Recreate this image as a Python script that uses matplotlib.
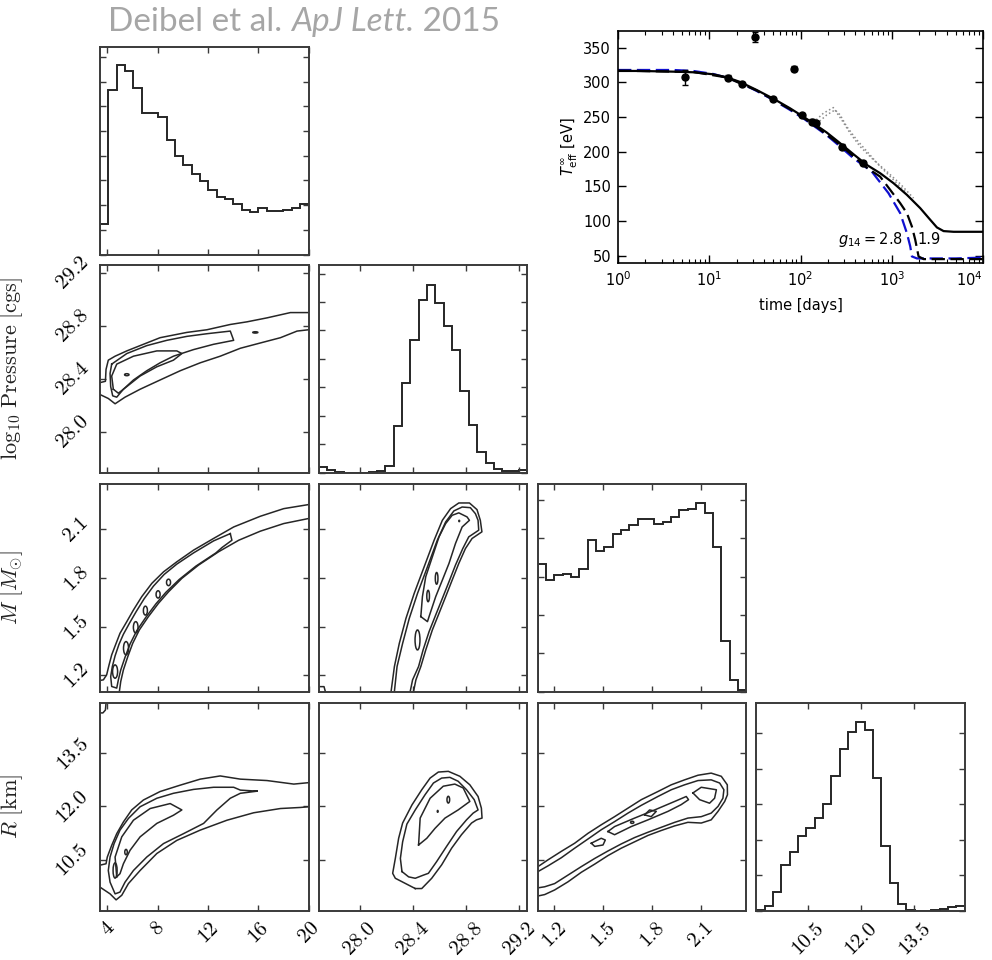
import numpy as np
import matplotlib
matplotlib.use("Agg")
import matplotlib.pyplot as plt
from matplotlib.patches import Ellipse
from matplotlib.ticker import FixedLocator, FixedFormatter, NullFormatter, MultipleLocator, LogLocator

# ---------------- corner-plot data ----------------
g_range = (3.42, 20.0)
P_range = (27.69, 29.26)
M_range = (1.10, 2.38)
R_range = (9.06, 14.92)

g_ticks = [4, 8, 12, 16, 20]
g_labels = ["4", "8", "12", "16", "20"]
P_ticks = [28.0, 28.4, 28.8, 29.2]
P_labels = ["28.0", "28.4", "28.8", "29.2"]
M_ticks = [1.2, 1.5, 1.8, 2.1]
M_labels = ["1.2", "1.5", "1.8", "2.1"]
R_ticks = [10.5, 12.0, 13.5]
R_labels = ["10.5", "12.0", "13.5"]

# 1D marginal histograms (25 bins each, arbitrary units)
hist_g = [1.22, 6.65, 7.66, 7.42, 6.76, 5.73, 5.73, 5.57, 4.65, 3.97, 3.64, 3.27, 2.96,
          2.62, 2.32, 2.26, 2.05, 1.81, 1.72, 1.89, 1.76, 1.78, 1.81, 1.89, 2.05]
hist_P = [0.18, 0.08, 0.02, 0.0, 0.0, 0.0, 0.01, 0.04, 0.24, 1.65, 3.15, 4.67, 6.08,
          6.61, 5.96, 5.14, 4.32, 2.88, 1.68, 0.73, 0.35, 0.12, 0.06, 0.05, 0.08]
hist_M = [3.33, 2.91, 3.04, 3.07, 3.00, 3.19, 3.96, 3.68, 3.78, 4.11, 4.22, 4.35, 4.50,
          4.50, 4.37, 4.43, 4.57, 4.74, 4.78, 4.93, 4.67, 3.78, 1.33, 0.29, 0.03]
hist_R = [0.01, 0.14, 0.52, 1.28, 1.66, 2.10, 2.34, 2.62, 3.02, 3.80, 4.56, 5.05, 5.31,
          5.10, 3.74, 1.82, 0.78, 0.17, 0.01, 0.0, 0.0, 0.01, 0.03, 0.10, 0.12]
hist_top = [8.4, 7.3, 5.42, 5.86]

# 2D credible-region contours (polylines in data units)
# Pressure vs g14
Pg_lines = [
    ([20.0, 18.56, 16.70, 15.11, 13.78, 11.92, 10.33, 8.20, 6.87, 5.55, 4.62, 4.08, 3.90, 3.85, 3.42],
     [28.90, 28.90, 28.86, 28.83, 28.81, 28.77, 28.75, 28.71, 28.66, 28.61, 28.57, 28.54, 28.47, 28.38, 28.37]),
    ([3.42, 4.08, 4.62, 5.41, 6.61, 8.20, 9.80, 11.39, 12.98, 14.58, 16.17, 17.77, 19.09, 20.0],
     [28.28, 28.25, 28.21, 28.26, 28.32, 28.39, 28.46, 28.52, 28.57, 28.63, 28.67, 28.71, 28.76, 28.77]),
    ([4.35, 5.55, 7.14, 8.73, 10.33, 11.92, 13.78, 14.05, 12.45, 10.86, 9.26, 8.20, 7.14, 6.08, 5.28, 4.75, 4.43, 4.27, 4.22, 4.35],
     [28.51, 28.59, 28.65, 28.69, 28.72, 28.74, 28.76, 28.69, 28.66, 28.62, 28.57, 28.52, 28.46, 28.39, 28.32, 28.26, 28.27, 28.34, 28.44, 28.51]),
    ([4.48, 4.35, 4.75, 6.08, 7.94, 9.53, 9.93, 9.26, 7.94, 6.61, 5.55, 4.88, 4.48],
     [28.32, 28.42, 28.51, 28.57, 28.61, 28.61, 28.59, 28.54, 28.49, 28.42, 28.34, 28.29, 28.32]),
]
Pg_islands = [(5.55, 28.43, 0.35, 0.015), (15.77, 28.75, 0.4, 0.010)]

# Mass vs g14
Mg_lines = [
    ([20.0, 18.03, 16.17, 14.05, 12.45, 10.86, 9.53, 8.47, 7.54, 6.74, 6.08, 5.55, 5.01, 4.70, 4.35, 4.14, 3.95, 3.69, 3.42],
     [2.253, 2.228, 2.181, 2.115, 2.044, 1.972, 1.900, 1.838, 1.767, 1.685, 1.603, 1.531, 1.459, 1.397, 1.326, 1.264, 1.203, 1.172, 1.168]),
    ([4.96, 5.07, 5.28, 5.63, 6.02, 6.55, 7.27, 8.07, 8.87, 9.93, 11.26, 12.85, 14.45, 16.17, 18.03, 20.0],
     [1.100, 1.162, 1.233, 1.315, 1.397, 1.480, 1.562, 1.644, 1.715, 1.798, 1.880, 1.962, 2.033, 2.089, 2.136, 2.167]),
    ([13.78, 12.45, 10.86, 9.53, 8.52, 7.67, 6.93, 6.29, 5.76, 5.28, 4.93, 4.62, 4.40, 4.27, 4.35,
      4.75, 4.88, 5.07, 5.41, 5.81, 6.34, 7.06, 7.86, 8.65, 9.72, 11.04, 12.64, 13.12, 13.91, 13.78],
     [2.074, 2.029, 1.955, 1.886, 1.822, 1.750, 1.672, 1.592, 1.521, 1.453, 1.391, 1.320, 1.254, 1.192, 1.131,
      1.121, 1.172, 1.233, 1.311, 1.393, 1.475, 1.557, 1.640, 1.711, 1.791, 1.873, 1.955, 1.988, 2.033, 2.074]),
]
Mg_islands = [(4.62, 1.223, 0.40, 0.082), (5.49, 1.367, 0.40, 0.082), (6.26, 1.496, 0.37, 0.070),
              (7.03, 1.599, 0.32, 0.055), (8.04, 1.699, 0.32, 0.045), (8.87, 1.773, 0.32, 0.040)]

# Mass vs Pressure
MP_lines = [
    ([28.235, 28.260, 28.297, 28.347, 28.409, 28.484, 28.559, 28.621, 28.683, 28.745, 28.825, 28.882, 28.907,
      28.919, 28.845, 28.795, 28.745, 28.695, 28.646, 28.596, 28.546, 28.496, 28.459, 28.422, 28.404],
     [1.100, 1.254, 1.397, 1.551, 1.705, 1.869, 2.033, 2.156, 2.228, 2.263, 2.263, 2.222, 2.156,
      2.085, 2.044, 1.982, 1.890, 1.787, 1.685, 1.582, 1.480, 1.356, 1.254, 1.172, 1.100]),
    ([28.260, 28.280, 28.322, 28.372, 28.434, 28.509, 28.583, 28.646, 28.708, 28.770, 28.832, 28.870, 28.890,
      28.895, 28.820, 28.775, 28.720, 28.671, 28.621, 28.571, 28.521, 28.476, 28.442, 28.397, 28.379],
     [1.100, 1.254, 1.397, 1.551, 1.705, 1.869, 2.033, 2.146, 2.214, 2.238, 2.234, 2.197, 2.156,
      2.095, 2.054, 1.982, 1.880, 1.777, 1.674, 1.572, 1.469, 1.356, 1.254, 1.172, 1.100]),
    ([28.459, 28.471, 28.496, 28.546, 28.596, 28.646, 28.695, 28.745, 28.807, 28.825, 28.770, 28.720, 28.671,
      28.621, 28.571, 28.521, 28.509, 28.459],
     [1.562, 1.685, 1.808, 1.931, 2.054, 2.136, 2.187, 2.202, 2.177, 2.156, 2.115, 2.013, 1.890,
      1.787, 1.685, 1.562, 1.531, 1.562]),
    ([27.69, 27.73, 27.74], [1.13, 1.13, 1.10]),
]
MP_islands = [(28.578, 1.798, 0.02, 0.072), (28.514, 1.689, 0.02, 0.070),
              (28.434, 1.418, 0.037, 0.123), (28.748, 2.152, 0.006, 0.008)]

# Radius vs g14
Rg_lines = [
    ([20.0, 18.83, 16.70, 14.58, 12.98, 11.39, 9.80, 8.20, 6.87, 5.94, 5.28, 4.75, 4.35, 4.00, 3.90, 3.42],
     [12.67, 12.63, 12.73, 12.77, 12.86, 12.77, 12.60, 12.42, 12.18, 11.90, 11.56, 11.23, 10.90, 10.57, 10.38, 10.34]),
    ([3.42, 4.22, 4.70, 5.15, 5.68, 6.61, 7.94, 9.53, 11.39, 13.52, 15.64, 17.77, 19.36, 20.0],
     [9.72, 9.53, 9.36, 9.49, 9.82, 10.19, 10.67, 11.04, 11.33, 11.61, 11.82, 11.94, 11.97, 11.99]),
    ([15.91, 14.58, 14.05, 12.45, 10.86, 9.26, 7.94, 6.61, 5.68, 5.01, 4.54, 4.22, 4.08, 4.22, 4.62, 5.01,
      5.41, 6.08, 7.14, 8.47, 10.06, 11.66, 12.72, 13.78, 14.58, 15.91],
     [12.43, 12.46, 12.54, 12.54, 12.48, 12.37, 12.23, 11.99, 11.66, 11.33, 10.95, 10.57, 10.19, 9.86, 9.53, 9.58,
      9.86, 10.19, 10.57, 10.95, 11.23, 11.52, 11.90, 12.23, 12.37, 12.43]),
    ([4.75, 4.62, 5.15, 6.08, 7.41, 9.00, 9.93, 9.26, 7.94, 6.61, 5.81, 5.28, 5.01, 4.75],
     [10.01, 10.57, 11.14, 11.61, 11.94, 12.08, 11.90, 11.75, 11.52, 11.14, 10.76, 10.38, 10.10, 10.01]),
    ([3.90, 3.85, 3.65, 3.42], [14.92, 14.72, 14.64, 14.64]),
]
Rg_islands = [(4.62, 10.19, 0.32, 0.43), (5.49, 10.71, 0.20, 0.15)]

# Radius vs Pressure
RP_lines = [
    ([28.417, 28.267, 28.247, 28.267, 28.292, 28.322, 28.392, 28.466, 28.529, 28.591, 28.666, 28.753, 28.828,
      28.890, 28.915, 28.920, 28.878, 28.841, 28.765, 28.691, 28.616, 28.541, 28.466, 28.417],
     [9.68, 9.97, 10.11, 10.53, 11.10, 11.53, 12.04, 12.47, 12.80, 12.97, 12.99, 12.85, 12.61,
      12.28, 11.95, 11.67, 11.62, 11.53, 11.20, 10.82, 10.35, 9.97, 9.68, 9.68]),
    ([28.317, 28.305, 28.322, 28.354, 28.417, 28.491, 28.554, 28.616, 28.678, 28.740, 28.803, 28.861, 28.890,
      28.853, 28.803, 28.728, 28.653, 28.578, 28.516, 28.479, 28.417, 28.367, 28.317],
     [10.16, 10.53, 11.00, 11.50, 11.90, 12.33, 12.66, 12.80, 12.82, 12.71, 12.47, 12.19, 11.90,
      11.81, 11.62, 11.29, 10.87, 10.44, 10.11, 10.06, 9.97, 10.01, 10.16]),
    ([28.442, 28.454, 28.529, 28.628, 28.715, 28.778, 28.828, 28.740, 28.641, 28.566, 28.504, 28.442],
     [10.91, 11.67, 12.23, 12.57, 12.63, 12.52, 12.14, 11.90, 11.67, 11.38, 11.10, 10.91]),
]
RP_islands = [(28.666, 12.19, 0.02, 0.19), (28.586, 11.86, 0.006, 0.05)]

# Radius vs Mass
RM_lines = [
    ([1.102, 1.163, 1.245, 1.327, 1.409, 1.490, 1.572, 1.654, 1.736, 1.838, 1.920, 2.002, 2.084, 2.165, 2.227,
      2.264, 2.265, 2.248, 2.207, 2.165, 2.104, 2.022, 1.941, 1.859, 1.777, 1.695, 1.613, 1.531, 1.450, 1.368,
      1.286, 1.204, 1.143, 1.102],
     [10.30, 10.49, 10.73, 10.96, 11.24, 11.48, 11.71, 11.95, 12.19, 12.42, 12.61, 12.75, 12.88, 12.94, 12.85,
      12.61, 12.33, 12.14, 11.86, 11.62, 11.53, 11.55, 11.45, 11.32, 11.18, 11.00, 10.82, 10.61, 10.37, 10.14,
      9.87, 9.64, 9.51, 9.47]),
    ([1.102, 1.163, 1.245, 1.327, 1.409, 1.490, 1.572, 1.654, 1.736, 1.838, 1.920, 2.002, 2.084, 2.165, 2.217,
      2.243, 2.237, 2.207, 2.165, 2.104, 2.022, 1.941, 1.859, 1.777, 1.695, 1.613, 1.531, 1.450, 1.368, 1.286,
      1.204, 1.143, 1.102],
     [10.16, 10.32, 10.55, 10.82, 11.08, 11.34, 11.57, 11.81, 12.03, 12.28, 12.47, 12.61, 12.73, 12.75, 12.66,
      12.47, 12.23, 12.00, 11.81, 11.71, 11.67, 11.55, 11.41, 11.27, 11.12, 10.94, 10.74, 10.53, 10.30, 10.06,
      9.82, 9.73, 9.70]),
    ([1.531, 1.572, 1.695, 1.818, 1.941, 2.012, 2.026, 1.981, 1.900, 1.777, 1.674, 1.572, 1.531],
     [11.29, 11.43, 11.67, 11.90, 12.14, 12.28, 12.19, 12.05, 11.86, 11.62, 11.43, 11.20, 11.29]),
    ([1.429, 1.490, 1.515, 1.501, 1.450, 1.429], [10.96, 11.10, 11.05, 10.91, 10.87, 10.96]),
    ([1.756, 1.787, 1.828, 1.797, 1.756], [11.76, 11.90, 11.86, 11.71, 11.76]),
    ([2.053, 2.104, 2.197, 2.186, 2.155, 2.094, 2.053], [12.38, 12.54, 12.47, 12.23, 12.09, 12.19, 12.38]),
]
RM_islands = [(1.680, 11.55, 0.02, 0.06)]

# ---------------- inset (cooling curve) data ----------------
obs_t = [5.4, 15.9, 22.8, 31.7, 50.3, 84.8, 103, 132.6, 148, 288, 482]
obs_T = [307.3, 306.8, 297.7, 364.9, 275.6, 319.8, 252.5, 243.4, 241.0, 207.4, 183.4]
obs_err = [11, 4, 3, 7, 3, 4, 3, 3, 3, 3, 3]

solid_t = [1, 1.73, 4.02, 6.66, 11.0, 15.5, 21.7, 33.0, 50.3, 76.7, 107, 138, 194, 272, 380, 532, 746,
           1045, 1465, 2051, 2641, 3126, 3700, 4763, 10000]
solid_T = [316.4, 316.4, 315.4, 314.5, 311.6, 307.3, 300.6, 289.0, 276.5, 262.6, 250.6, 241.0, 227.6, 212.2,
           196.4, 181.0, 169.0, 154.6, 137.8, 118.6, 101.8, 90.8, 85.5, 84.5, 84.5]

blue_t = [1, 4.02, 6.66, 11.0, 15.5, 21.7, 33.0, 50.3, 76.7, 107, 138, 194, 272, 380, 604, 921, 1237,
          1465, 1595, 1662, 1885, 5000, 8500, 10000]
blue_T = [317.8, 317.8, 316.4, 312.1, 306.8, 299.6, 287.6, 274.6, 260.2, 248.2, 237.7, 223.7, 207.4, 190.6,
          171.4, 140.2, 111.4, 82.6, 63.4, 49.0, 46.1, 46.1, 47.0, 48.0]

bdash_t = [1, 6.66, 15.5, 33.0, 76.7, 138, 272, 532, 746, 961, 1237, 1465, 1662, 1809, 1967, 2233, 10000]
bdash_T = [316.8, 315.0, 307.0, 288.3, 261.4, 239.4, 209.8, 177.0, 164.0, 145.0, 125.8, 111.4, 92.2, 73.0,
           49.0, 45.1, 45.1]

dot1_t = [138, 178, 229, 283, 350, 450, 630, 883, 1237, 1733]
dot1_T = [242.0, 255.4, 263.6, 245.8, 226.6, 207.4, 188.2, 171.4, 153.7, 133.0]
dot2_t = [150, 194, 239, 272, 321, 414, 556, 746, 1045, 1465]
dot2_T = [240.1, 253.0, 260.2, 253.0, 236.2, 217.0, 197.8, 178.6, 159.4, 140.2]

inset_xticks = [1, 10, 100, 1000, 10000]
inset_yticks = [50, 100, 150, 200, 250, 300, 350]

# ---------------- figure ----------------
fig = plt.figure(figsize=(9.92, 9.6), dpi=100)

EDGE = "#3a3a3a"
LINE = "#262626"
TICKFONT = dict(family="cmr10", size=15)

col_left = [100, 318.7, 537.7, 756.3]
row_top = [47, 265, 484, 703]
W, H = 208.5, 207.5

ranges = [g_range, P_range, M_range, R_range]
ticks = [g_ticks, P_ticks, M_ticks, R_ticks]
tlabels = [g_labels, P_labels, M_labels, R_labels]
hists = [hist_g, hist_P, hist_M, hist_R]
ylabels = [None, r"$\log_{10}\,\mathrm{Pressure}\ [\mathrm{cgs}]$", r"$M\ [M_{\odot}]$", r"$R\ [\mathrm{km}]$"]

contours = {
    (1, 0): (Pg_lines, Pg_islands),
    (2, 0): (Mg_lines, Mg_islands),
    (2, 1): (MP_lines, MP_islands),
    (3, 0): (Rg_lines, Rg_islands),
    (3, 1): (RP_lines, RP_islands),
    (3, 2): (RM_lines, RM_islands),
}


def style_axes(ax):
    for s in ax.spines.values():
        s.set_color(EDGE)
        s.set_linewidth(1.4)
    ax.tick_params(which="both", direction="in", top=True, right=True, length=4.5, width=1.0,
                   color=EDGE, pad=6)


for i in range(4):
    for j in range(i + 1):
        ax = fig.add_axes([col_left[j] / 992, 1 - (row_top[i] + H) / 960, W / 992, H / 960])
        style_axes(ax)
        ax.set_xlim(*ranges[j])
        ax.xaxis.set_major_locator(FixedLocator(ticks[j]))
        if i == j:
            edges = np.linspace(ranges[j][0], ranges[j][1], len(hists[j]) + 1)
            ax.stairs(hists[j], edges, color=LINE, lw=1.4)
            ax.set_ylim(0, hist_top[j])
            ax.yaxis.set_major_locator(MultipleLocator(1))
            ax.yaxis.set_major_formatter(NullFormatter())
        else:
            ax.set_ylim(*ranges[i])
            ax.yaxis.set_major_locator(FixedLocator(ticks[i]))
            lines, islands = contours[(i, j)]
            for xs, ys in lines:
                ax.plot(xs, ys, color=LINE, lw=1.1)
            for cx, cy, w, h in islands:
                ax.add_patch(Ellipse((cx, cy), w, h, fill=False, ec=LINE, lw=1.1))
            if j == 0:
                ax.yaxis.set_major_formatter(FixedFormatter(tlabels[i]))
                for lab in ax.get_yticklabels():
                    lab.set_fontproperties(TICKFONT)
                    lab.set_rotation(45)
                    lab.set_va("center")
                ax.set_ylabel(ylabels[i], fontsize=16, math_fontfamily="cm", color="#222222")
                ax.yaxis.set_label_coords(-0.36, 0.5)
            else:
                ax.yaxis.set_major_formatter(NullFormatter())
        if i == 3:
            ax.xaxis.set_major_formatter(FixedFormatter(tlabels[j]))
            for lab in ax.get_xticklabels():
                lab.set_fontproperties(TICKFONT)
                lab.set_rotation(45)
                lab.set_ha("center")
        else:
            ax.xaxis.set_major_formatter(NullFormatter())

# ---------------- inset ----------------
ax = fig.add_axes([618 / 992, 1 - 263 / 960, 365 / 992, 232 / 960])
ax.set_xscale("log")
ax.set_xlim(1, 1e4)
ax.set_ylim(39.5, 374)
ax.set_yticks(inset_yticks)
ax.xaxis.set_major_locator(FixedLocator(inset_xticks))
ax.xaxis.set_minor_locator(LogLocator(base=10, subs=np.arange(2, 10)))
for s in ax.spines.values():
    s.set_linewidth(1.2)
    s.set_color("black")
ax.tick_params(which="major", direction="in", top=True, right=True, length=6, width=1, labelsize=10.5, pad=5)
ax.tick_params(which="minor", direction="in", top=True, right=True, length=3, width=0.8)

ax.plot(dot1_t, dot1_T, color="#8c8c8c", lw=1.1, ls=":")
ax.plot(dot2_t, dot2_T, color="#8c8c8c", lw=1.1, ls=":")
ax.plot(blue_t, blue_T, color="#1010d0", lw=1.6, ls=(0, (6, 2.5)))
ax.plot(bdash_t, bdash_T, color="black", lw=1.6, ls=(0, (6, 2.5)))
ax.plot(solid_t, solid_T, color="black", lw=1.6)
ax.errorbar(obs_t, obs_T, yerr=obs_err, fmt="o", color="black", ms=5, capsize=2.5, elinewidth=1, capthick=1)

ax.text(580, 74, r"$g_{14} = 2.8$", fontsize=10.5, ha="center", va="center", math_fontfamily="dejavusans")
ax.text(2550, 74, "1.9", fontsize=10.5, ha="center", va="center")
ax.set_xlabel("time [days]", fontsize=10.5, labelpad=7)
ax.set_ylabel(r"$T_{\rm eff}^{\infty}$ [eV]", fontsize=10.5, math_fontfamily="dejavusans", labelpad=2)
# keep the last x tick label ("10^4") inside the canvas
xt_labels = ax.get_xticklabels()
xt_labels[-1].set_ha("right")

# ---------------- title ----------------
renderer = fig.canvas.get_renderer()
tcol = "#a6a6a6"
x0 = 108 / 992
yb = 1 - 31 / 960
parts = [("Deibel et al. ", "normal"), ("ApJ Lett.", "italic"), (" 2015", "normal")]
for txt, style in parts:
    t = fig.text(x0, yb, txt, fontsize=24, family="Lato", style=style, color=tcol, va="baseline", ha="left")
    bb = t.get_window_extent(renderer=renderer)
    x0 = bb.x1 / fig.bbox.width

fig.savefig("out.png", dpi=100)
